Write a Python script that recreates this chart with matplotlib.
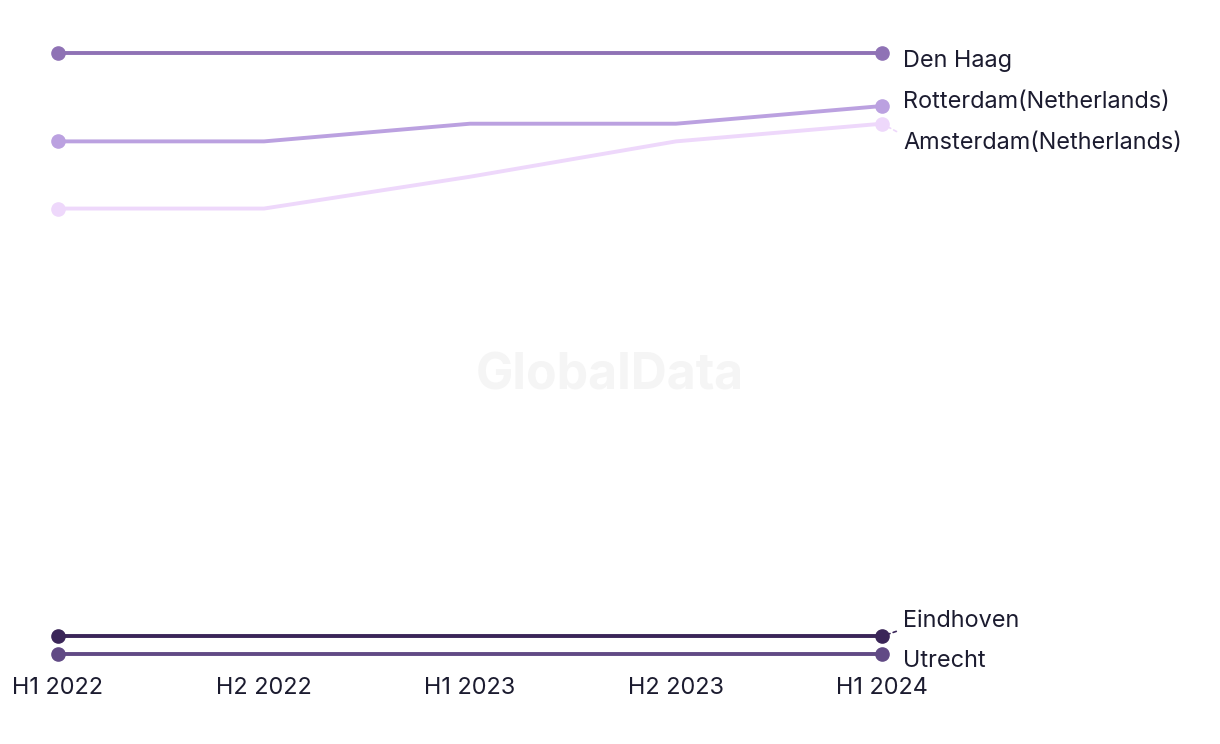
import matplotlib
matplotlib.use("Agg")
import matplotlib.pyplot as plt

periods = ["H1 2022", "H2 2022", "H1 2023", "H2 2023", "H1 2024"]
cities = ["Den Haag", "Rotterdam(Netherlands)", "Amsterdam(Netherlands)", "Eindhoven", "Utrecht"]
den_haag = [35, 35, 35, 35, 35]
rotterdam = [30, 30, 31, 31, 32]
amsterdam = [26.2, 26.2, 28, 30, 31]
eindhoven = [2, 2, 2, 2, 2]
utrecht = [1, 1, 1, 1, 1]
series = [den_haag, rotterdam, amsterdam, eindhoven, utrecht]
colors = ["#8F72B5", "#BBA1E0", "#EED8FB", "#3A2558", "#614A85"]
# label vertical offsets in pixels (layout only)
label_offsets = [-8, 4, -19, 15, -7]

plt.rcParams['font.family'] = ['Inter', 'DejaVu Sans']
W, H = 1220, 744
fig = plt.figure(figsize=(W / 100, H / 100), dpi=100)
left, right = 58, 882
top, bottom = 53, 654
ax = fig.add_axes([left / W, (H - bottom) / H, (right - left) / W, (bottom - top) / H])
ax.set_xlim(0, len(periods) - 1)
ax.set_ylim(1, 35)
ax.axis("off")

FS = 16.9
TXT = "#1B1B2F"
x = list(range(len(periods)))
for vals, c, name, off in zip(series, colors, cities, label_offsets):
    ax.plot(x, vals, color=c, lw=2.8, marker="o", ms=9.5, markevery=[0, len(x) - 1],
            clip_on=False, solid_capstyle="round")
    xe, ye = x[-1], vals[-1]
    kw = dict(xy=(xe, ye), xytext=(21, off), textcoords="offset pixels",
              va="center", ha="left", fontsize=FS, color=TXT)
    if abs(off) > 10:
        kw["arrowprops"] = dict(arrowstyle="-", color=c, lw=1.2, linestyle=(0, (2, 2)),
                                shrinkA=3, shrinkB=2, relpos=(0, 0.5 - 0.35 * (1 if off > 0 else -1)))
    ax.annotate(name, **kw)

for xi, p in zip(x, periods):
    ax.annotate(p, xy=(xi, 1), xytext=(0, -34), textcoords="offset pixels",
                ha="center", va="center", fontsize=FS, color=TXT)

fig.text(610 / W, (H - 376) / H, "GlobalData", ha="center", va="center",
         fontsize=36, fontweight="bold", color="#F5F5F5", zorder=0)

fig.savefig("out.png", dpi=100, facecolor="white")
